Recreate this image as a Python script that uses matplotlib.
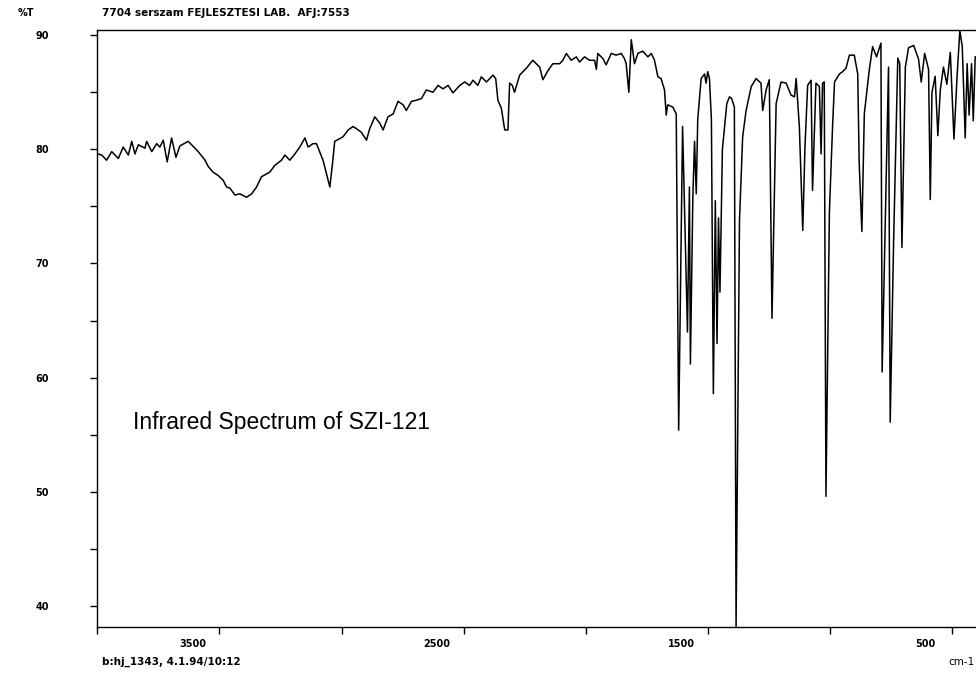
import matplotlib
matplotlib.use("Agg")
import matplotlib.pyplot as plt
from matplotlib.transforms import ScaledTranslation

# --- DATA ---
wavenumber = [
    3998, 3982, 3962, 3941, 3914, 3894, 3873, 3859, 3846, 3832, 3805, 3798, 3777,
    3757, 3744, 3730, 3714, 3696, 3678, 3662, 3628, 3614, 3587, 3559, 3546, 3526,
    3505, 3485, 3471, 3457, 3437, 3416, 3389, 3368, 3348, 3328, 3294, 3273, 3246,
    3232, 3212, 3191, 3171, 3150, 3137, 3117, 3103, 3076, 3059, 3048, 3037, 3028,
    2994, 2973, 2953, 2939, 2919, 2898, 2885, 2864, 2844, 2830, 2810, 2789, 2769,
    2748, 2735, 2714, 2694, 2673, 2653, 2626, 2605, 2585, 2564, 2544, 2516, 2496,
    2476, 2462, 2442, 2428, 2407, 2380, 2369, 2360, 2346, 2332, 2319, 2312, 2301,
    2292, 2271, 2244, 2217, 2203, 2189, 2176, 2155, 2135, 2107, 2094, 2080, 2060,
    2039, 2026, 2005, 1985, 1964, 1957, 1951, 1930, 1917, 1896, 1876, 1855, 1842,
    1835, 1824, 1814, 1801, 1787, 1767, 1746, 1732, 1719, 1705, 1692, 1678, 1671,
    1665, 1644, 1630, 1620, 1604, 1584, 1576, 1572, 1562, 1555, 1548, 1542, 1528,
    1514, 1508, 1501, 1494, 1486, 1478, 1470, 1463, 1457, 1451, 1441, 1423, 1412,
    1403, 1392, 1385, 1371, 1358, 1344, 1323, 1303, 1283, 1276, 1262, 1249, 1238,
    1221, 1201, 1180, 1160, 1146, 1139, 1126, 1112, 1103, 1092, 1078, 1072, 1058,
    1044, 1037, 1031, 1024, 1017, 1003, 990, 982, 962, 949, 935, 921, 901, 887,
    881, 870, 860, 840, 826, 810, 792, 787, 761, 754, 740, 723, 715, 706, 692,
    679, 658, 638, 627, 613, 597, 590, 583, 570, 559, 549, 536, 522, 508, 493,
    480, 469, 459, 447, 439, 431, 421, 414, 406,
]
transmittance = [
    79.6, 79.5, 79.05, 79.8, 79.2, 80.2, 79.5, 80.7, 79.6, 80.4, 80.1, 80.7, 79.8,
    80.5, 80.2, 80.8, 78.9, 81.0, 79.3, 80.3, 80.7, 80.4, 79.8, 79.05, 78.5, 78.0,
    77.7, 77.3, 76.7, 76.6, 76.0, 76.1, 75.8, 76.1, 76.7, 77.6, 78.0, 78.6, 79.05,
    79.5, 79.05, 79.6, 80.2, 81.0, 80.2, 80.5, 80.5, 79.05, 77.6, 76.7, 78.8, 80.7,
    81.1, 81.7, 82.0, 81.8, 81.5, 80.8, 81.8, 82.85, 82.3, 81.7, 82.85, 83.1, 84.2,
    83.9, 83.4, 84.2, 84.3, 84.45, 85.2, 85.0, 85.6, 85.3, 85.6, 84.95, 85.6, 85.9,
    85.6, 86.05, 85.6, 86.35, 85.9, 86.5, 86.2, 84.3, 83.6, 81.7, 81.7, 85.8, 85.6,
    85.0, 86.5, 87.1, 87.8, 87.5, 87.2, 86.1, 86.9, 87.5, 87.5, 87.8, 88.4, 87.8,
    88.1, 87.65, 88.1, 87.8, 87.8, 87.0, 88.4, 87.95, 87.4, 88.4, 88.25, 88.4, 87.95,
    87.5, 85.0, 89.6, 87.5, 88.4, 88.6, 88.1, 88.4, 87.8, 86.35, 86.2, 85.2, 83.0,
    83.9, 83.7, 83.1, 55.4, 82.0, 64.0, 76.7, 61.2, 75.8, 80.7, 76.1, 82.6, 86.2,
    86.6, 85.8, 86.8, 86.2, 82.6, 58.6, 75.5, 63.0, 74.0, 67.5, 80.0, 84.0, 84.6,
    84.45, 83.7, 38.2, 73.8, 81.1, 83.4, 85.5, 86.2, 85.8, 83.4, 85.2, 86.1, 65.2,
    84.0, 85.9, 85.8, 84.75, 84.6, 86.2, 82.0, 72.9, 80.2, 85.6, 86.05, 76.4, 85.8,
    85.5, 79.6, 85.8, 85.9, 49.6, 74.5, 82.0, 85.9, 86.6, 86.8, 87.1, 88.25, 88.25, 86.6,
    78.8, 72.8, 83.1, 86.9, 89.0, 88.1, 89.3, 60.5, 87.2, 56.1, 72.0, 88.0, 87.5, 71.4, 87.2,
    88.9, 89.1, 87.9, 85.9, 88.4, 87.0, 75.6, 85.0, 86.4, 81.2, 85.2, 87.2, 85.7, 88.5, 80.9,
    86.5, 90.4, 89.0, 81.0, 87.5, 83.0, 87.5, 82.5, 88.1,
]

x_ticks = [4000, 3500, 3000, 2500, 2000, 1500, 1000, 500]
x_labels = ["", "3500", "", "2500", "", "1500", "", "500"]
y_ticks = [40, 50, 60, 70, 80, 90]
y_minor = [45, 55, 65, 75, 85]

header = "7704 serszam FEJLESZTESI LAB.  AFJ:7553"
footer = "b:hj_1343, 4.1.94/10:12"
caption = "Infrared Spectrum of SZI-121"

# --- PLOT ---
fig = plt.figure(figsize=(9.76, 6.79), dpi=100)
ax = fig.add_axes([0.0997, 0.0766, 0.901, 0.879])

ax.plot(wavenumber, transmittance, color="black", lw=1.1)
ax.set_xlim(4000, 400)
ax.set_ylim(38.16, 90.44)

ax.spines["right"].set_visible(False)
for side in ["left", "top", "bottom"]:
    ax.spines[side].set_linewidth(1.0)

ax.set_xticks(x_ticks)
ax.set_xticklabels(x_labels, fontsize=7, fontweight="bold")
ax.set_yticks(y_ticks)
ax.set_yticks(y_minor, minor=True)
ax.set_yticklabels([str(v) for v in y_ticks], fontsize=7, fontweight="bold")
ax.tick_params(axis="x", direction="out", length=5, width=1, pad=4)
ax.tick_params(axis="y", which="both", direction="out", length=5, width=1, pad=30)

# the old plotter printed the wavenumber labels left of their ticks
shift = ScaledTranslation(-27 / 100, 0, fig.dpi_scale_trans)
for lab in ax.get_xticklabels():
    lab.set_transform(lab.get_transform() + shift)

fig.text(0.018, 0.981, "%T", fontsize=7, fontweight="bold", va="center")
fig.text(0.105, 0.981, header, fontsize=7.5, fontweight="bold", va="center")
fig.text(0.105, 0.025, footer, fontsize=7.5, fontweight="bold", va="center")
fig.text(0.999, 0.025, "cm-1", fontsize=7.5, ha="right", va="center")

ax.text(0.0406, 0.343, caption, transform=ax.transAxes, fontsize=16.5,
        family="Liberation Sans", va="center", ha="left")

fig.savefig("out.png", dpi=100)
plt.close(fig)
